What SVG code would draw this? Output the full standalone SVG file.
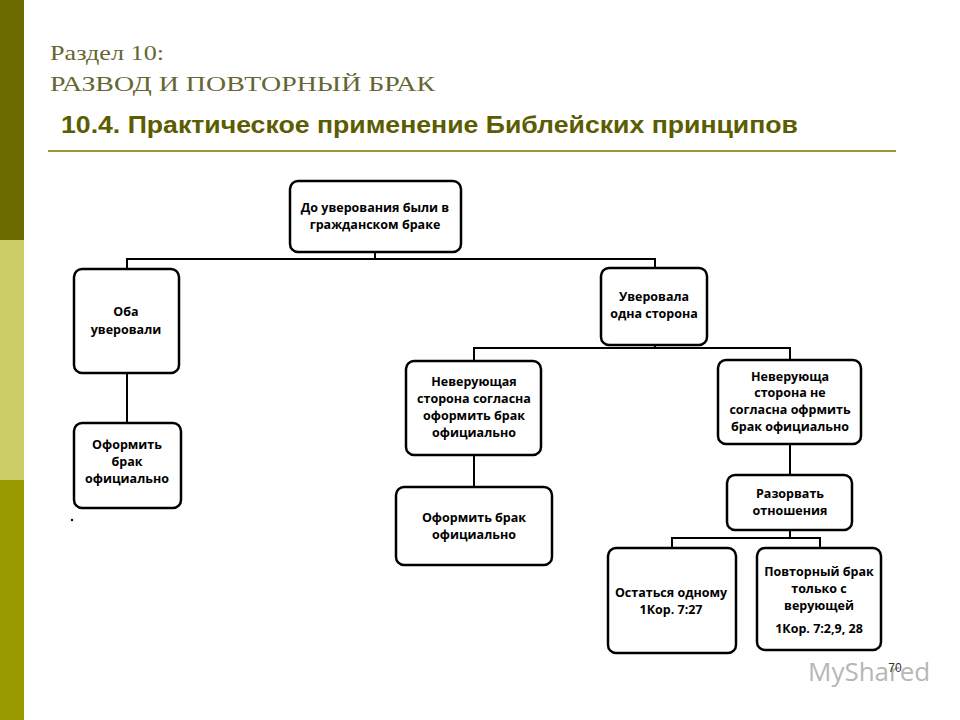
<svg xmlns="http://www.w3.org/2000/svg" width="960" height="720" viewBox="0 0 960 720">
<style>
.b{fill:#fff;stroke:#000;stroke-width:2.5}
.t{font-family:"Open Sans","DejaVu Sans",sans-serif;font-weight:bold;font-size:12.5px;text-anchor:middle;fill:#000}
.c{stroke:#000;stroke-width:2;fill:none}
</style>
<rect width="960" height="720" fill="#fff"/>
<rect x="0" y="0" width="24" height="240" fill="#6b6b00"/>
<rect x="0" y="240" width="24" height="240" fill="#cccc66"/>
<rect x="0" y="480" width="24" height="240" fill="#999900"/>
<text x="50" y="60" font-family="Liberation Serif,serif" font-size="22" fill="#666633" textLength="114" lengthAdjust="spacingAndGlyphs">Раздел 10:</text>
<text x="50" y="91" font-family="Liberation Serif,serif" font-size="22" fill="#666633" textLength="385" lengthAdjust="spacingAndGlyphs">РАЗВОД И ПОВТОРНЫЙ БРАК</text>
<text x="61" y="133" font-family="Liberation Sans,Arial,sans-serif" font-weight="bold" font-size="23" fill="#5c5c00" textLength="737" lengthAdjust="spacingAndGlyphs">10.4. Практическое применение Библейских принципов</text>
<line x1="48" y1="151" x2="896" y2="151" stroke="#999933" stroke-width="2"/>
<g id="connectors">
<path class="c" d="M375 252V259M127 269V259H655V269M127 373V423M655 345V348M474 361V348H790V360M474 455V487M790 444V475M790 530V538M672 548V538H820V548"/>
</g>
<g id="n1"><rect class="b" x="290" y="181" width="171" height="71" rx="8"/><text class="t" x="375" y="212">До уверования были в</text><text class="t" x="375" y="229">гражданском браке</text></g>
<g id="n2"><rect class="b" x="74" y="269" width="105" height="104" rx="8"/><text class="t" x="126" y="316">Оба</text><text class="t" x="126" y="334">уверовали</text></g>
<g id="n3"><rect class="b" x="74" y="423" width="107" height="85" rx="8"/><text class="t" x="127" y="449">Оформить</text><text class="t" x="127" y="466">брак</text><text class="t" x="127" y="483">официально</text></g>
<g id="n4"><rect class="b" x="601" y="268" width="106" height="77" rx="8"/><text class="t" x="654" y="301">Уверовала</text><text class="t" x="654" y="318">одна сторона</text></g>
<g id="n5"><rect class="b" x="406" y="361" width="135" height="94" rx="8"/><text class="t" x="474" y="386">Неверующая</text><text class="t" x="474" y="403">сторона согласна</text><text class="t" x="474" y="420">оформить брак</text><text class="t" x="474" y="437">официально</text></g>
<g id="n6"><rect class="b" x="718" y="360" width="143" height="84" rx="8"/><text class="t" x="790" y="381">Неверующа</text><text class="t" x="790" y="397">сторона не</text><text class="t" x="790" y="414">согласна офрмить</text><text class="t" x="790" y="431">брак официально</text></g>
<g id="n7"><rect class="b" x="396" y="487" width="156" height="78" rx="8"/><text class="t" x="474" y="522">Оформить брак</text><text class="t" x="474" y="539">официально</text></g>
<g id="n8"><rect class="b" x="727" y="475" width="125" height="55" rx="8"/><text class="t" x="790" y="498">Разорвать</text><text class="t" x="790" y="515">отношения</text></g>
<g id="n9"><rect class="b" x="608" y="548" width="128" height="105" rx="8"/><text class="t" x="671" y="597">Остаться одному</text><text class="t" x="671" y="614">1Кор. 7:27</text></g>
<g id="n10"><rect class="b" x="757" y="548" width="124" height="102" rx="8"/><text class="t" x="819" y="576">Повторный брак</text><text class="t" x="819" y="593">только с</text><text class="t" x="819" y="610">верующей</text><text class="t" x="819" y="633">1Кор. 7:2,9, 28</text></g>
<circle cx="72" cy="520" r="1.2" fill="#000"/>
<text x="808" y="681" font-family="Open Sans,sans-serif" font-size="26" fill="#999" opacity="0.7">MyShared</text>
<text x="895" y="672" font-family="Liberation Sans,sans-serif" font-size="12" text-anchor="middle" fill="#333">70</text>
</svg>
